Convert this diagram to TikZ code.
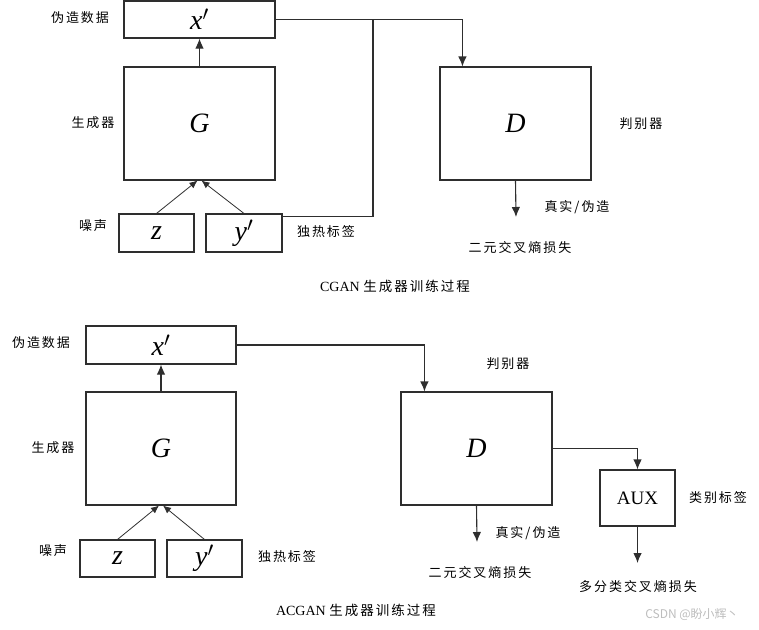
\documentclass[tikz,border=0pt]{standalone}
\usepackage{fontspec}
\setmainfont{Liberation Serif}
\newfontfamily\cjk[LetterSpace=15]{Noto Sans CJK SC}
\newfontfamily\cjkplain{Noto Sans CJK SC}
\usetikzlibrary{arrows.meta}
\definecolor{ln}{HTML}{2E2E2E}
\definecolor{wm}{HTML}{BDBDBD}
\tikzset{
  box/.style={draw=ln, line width=1.1pt, inner sep=0pt, anchor=center},
  conn/.style={draw=ln, line width=1.1pt},
  arr/.style={conn, -{Latex[length=10pt,width=8.5pt]}},
  thin arr/.style={draw=ln, line width=0.8pt, -{Latex[length=8pt,width=7pt]}},
  lab/.style={inner sep=0pt, font=\cjk\fontsize{13}{15}\selectfont},
  sym/.style={font=\fontsize{28}{30}\selectfont\itshape},
  captext/.style={inner sep=0pt, font=\fontsize{14}{16}\selectfont},
}
\begin{document}
\begin{tikzpicture}[x=1pt,y=-1pt]
\useasboundingbox (0,0) rectangle (759,629);
% ---------------- CGAN ----------------
\node[box, minimum width=151pt, minimum height=37pt, sym] (xp1) at (199.5,19.5) {x$'$};
\node[box, minimum width=151pt, minimum height=113pt, sym] (G1) at (199.5,123.5) {G};
\node[box, minimum width=75pt, minimum height=38pt, sym] (z1) at (156.5,233) {z};
\node[box, minimum width=76pt, minimum height=38pt, sym] (y1) at (244,233) {y$'$};
\node[box, minimum width=151pt, minimum height=113pt, sym] (D1) at (515.5,123.5) {D};
\coordinate (j1) at (373,19.5);
\coordinate (o1) at (516,217);
\draw[arr] (G1.north) -- (xp1.south);
\draw[thin arr] (z1.north) -- ([xshift=-2pt]G1.south);
\draw[thin arr] (y1.north) -- ([xshift=2pt]G1.south);
\draw[conn] ([yshift=-3pt]y1.north east) -| (j1);
\draw[arr] (xp1.east) -| ([xshift=23pt]D1.north west);
\draw[arr] (D1.south) -- (o1);
\node[lab] (l1) at (80,18) {伪造数据};
\node[lab] (l2) at (93,123) {生成器};
\node[lab] (l3) at (93,226) {噪声};
\node[lab] (l4) at (326,232) {独热标签};
\node[lab] (l5) at (641,124) {判别器};
\node[lab] (l6) at (577,207) {真实/伪造};
\node[lab] (l7) at (520,248) {二元交叉熵损失};
\node[captext] (c1) at (395,286) {CGAN {\cjk\fontsize{13.5}{16}\selectfont 生成器训练过程}};
% ---------------- ACGAN ----------------
\node[box, minimum width=150pt, minimum height=38pt, sym] (xp2) at (161,345) {x$'$};
\node[box, minimum width=150pt, minimum height=113pt, sym] (G2) at (161,448.5) {G};
\node[box, minimum width=75pt, minimum height=37pt, sym] (z2) at (117.5,558.5) {z};
\node[box, minimum width=75pt, minimum height=37pt, sym] (y2) at (204.5,558.5) {y$'$};
\node[box, minimum width=151pt, minimum height=113pt, sym] (D2) at (476.5,448.5) {D};
\node[box, minimum width=75pt, minimum height=56pt, font=\fontsize{19}{21}\selectfont] (aux) at (637.5,498) {AUX};
\coordinate (o2) at (477,542);
\coordinate (o3) at (637.5,563);
\draw[arr] (G2.north) -- (xp2.south);
\draw[thin arr] (z2.north) -- ([xshift=-2pt]G2.south);
\draw[thin arr] (y2.north) -- ([xshift=2pt]G2.south);
\draw[arr] (xp2.east) -| ([xshift=24pt]D2.north west);
\draw[arr] (D2.east) -| (aux.north);
\draw[arr] (D2.south) -- (o2);
\draw[arr] (aux.south) -- (o3);
\node[lab] (m1) at (41,343) {伪造数据};
\node[lab] (m2) at (53,448) {生成器};
\node[lab] (m3) at (53,551) {噪声};
\node[lab] (m4) at (287,557) {独热标签};
\node[lab] (m5) at (508,364) {判别器};
\node[lab] (m6) at (528,533) {真实/伪造};
\node[lab] (m7) at (480,573) {二元交叉熵损失};
\node[lab] (m8) at (638,587) {多分类交叉熵损失};
\node[lab] (m9) at (718,498) {类别标签};
\node[captext] (c2) at (356,610) {ACGAN {\cjk\fontsize{13.5}{16}\selectfont 生成器训练过程}};
\node[inner sep=0pt, text=wm, font=\cjkplain\fontsize{12}{14}\selectfont] (wmk) at (692,615) {CSDN @盼小辉丶};
\end{tikzpicture}
\end{document}
